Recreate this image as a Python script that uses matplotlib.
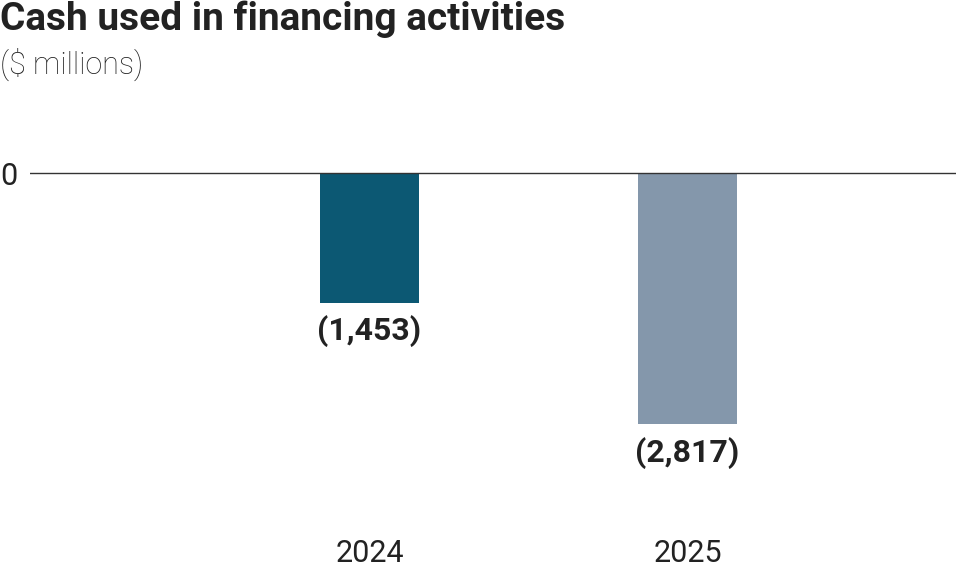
import matplotlib
matplotlib.use("Agg")
import matplotlib.pyplot as plt
import matplotlib.transforms as mtransforms

years = ["2024", "2025"]
values = [-1453, -2817]
value_labels = ["(1,453)", "(2,817)"]
colors = ["#0c5873", "#8497ab"]

FAM = ["Roboto", "DejaVu Sans"]

W, H = 956, 569
fig = plt.figure(figsize=(W / 100, H / 100), dpi=100)

top_px, bot_px = 100, 540
left_px, right_px = 30, 956
ax = fig.add_axes([left_px / W, 1 - bot_px / H, (right_px - left_px) / W, (bot_px - top_px) / H])

x = [0, 1]
ax.bar(x, values, width=0.311, color=colors, zorder=2)
ax.axhline(0, color="#333333", lw=1.0, zorder=3)

units_per_px = 11.22
ax.set_ylim(-(bot_px - 173) * units_per_px, (173 - top_px) * units_per_px)
ax.set_xlim(-1.0676, 1.8443)

for xi, v, lab in zip(x, values, value_labels):
    ax.annotate(lab, (xi, v), xytext=(0, -9), textcoords="offset points",
                ha="center", va="top", fontsize=23, fontweight="bold",
                color="#222222", family=FAM)

# year labels placed under each bar (x in data, y in figure coords)
trans = mtransforms.blended_transform_factory(ax.transData, fig.transFigure)
for xi, yr in zip(x, years):
    ax.text(xi, 1 - 562 / H, yr, transform=trans, ha="center", va="baseline",
            fontsize=22, color="#222222", family=FAM)

ax.set_xticks([])
ax.set_yticks([0])
ax.set_yticklabels(["0"], fontsize=22, color="#222222", family=FAM)
ax.tick_params(axis="y", length=0, pad=0)
for lbl in ax.get_yticklabels():
    lbl.set_ha("left")
    lbl.set_x(-left_px / (right_px - left_px))
for s in ax.spines.values():
    s.set_visible(False)

fig.text(0, 1 - 1 / H, "Cash used in financing activities", ha="left", va="top",
         fontsize=28, fontweight="bold", color="#222222", family=FAM)
fig.text(0, 1 - 48 / H, "($ millions)", ha="left", va="top",
         fontsize=22, fontweight="light", color="#222222", family=FAM)

fig.savefig("out.png", dpi=100)
